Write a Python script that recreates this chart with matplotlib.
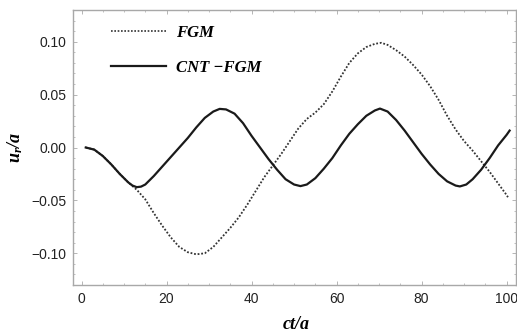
import matplotlib
matplotlib.use("Agg")
import matplotlib.pyplot as plt
from matplotlib.ticker import MultipleLocator
from matplotlib.lines import Line2D

# ---- data ----
cnt_x = [1.0, 3, 5, 7, 9, 11, 12, 13, 14, 15, 17, 19, 21, 23, 25, 27, 29, 31, 32.5, 34,
         36, 38, 40, 42, 44, 46, 48, 50, 51.5, 53, 55, 57, 59, 61, 63, 65, 67, 69, 70.2,
         72, 74, 76, 78, 80, 82, 84, 86, 88, 89, 90.5, 92, 94, 96, 98, 100, 100.7]
cnt_y = [0.0, -0.002, -0.008, -0.016, -0.025, -0.033, -0.036, -0.0375, -0.037, -0.035,
         -0.027, -0.018, -0.009, 0.000, 0.009, 0.019, 0.028, 0.034, 0.0365, 0.036,
         0.032, 0.023, 0.011, 0.000, -0.011, -0.021, -0.030, -0.035, -0.0365, -0.035,
         -0.029, -0.020, -0.010, 0.002, 0.013, 0.022, 0.030, 0.035, 0.0368,
         0.034, 0.026, 0.016, 0.005, -0.006, -0.016, -0.025, -0.032, -0.036, -0.0368,
         -0.035, -0.030, -0.021, -0.010, 0.002, 0.012, 0.016]

fgm_x = [1, 3, 5, 7, 9, 11, 13, 15, 17, 19, 21, 23, 25, 27, 29, 31, 33, 35, 37, 39, 41,
         43, 45, 47, 49, 51, 53, 55, 57, 59, 61, 63, 65, 67, 69, 70.5, 72, 74, 76, 78,
         80, 82, 84, 86, 88, 90, 92, 94, 96, 98, 100, 100.3]
fgm_y = [0.0, -0.002, -0.008, -0.016, -0.025, -0.033, -0.040, -0.049, -0.062, -0.074,
         -0.085, -0.094, -0.099, -0.101, -0.100, -0.094, -0.085, -0.076, -0.066, -0.054,
         -0.041, -0.028, -0.017, -0.006, 0.006, 0.018, 0.027, 0.033, 0.041, 0.053, 0.067,
         0.080, 0.089, 0.095, 0.098, 0.099, 0.097, 0.092, 0.086, 0.078, 0.069, 0.058,
         0.045, 0.030, 0.017, 0.006, -0.003, -0.013, -0.023, -0.034, -0.045, -0.047]

series_labels = ["FGM", "CNT \u2212FGM"]
x_ticks = [0, 20, 40, 60, 80, 100]
y_ticks = [-0.10, -0.05, 0.00, 0.05, 0.10]

plt.rcParams['mathtext.fontset'] = 'custom'
plt.rcParams['mathtext.it'] = 'Liberation Serif:bold:italic'
plt.rcParams['mathtext.rm'] = 'Liberation Serif:bold:italic'
plt.rcParams['mathtext.bf'] = 'Liberation Serif:bold:italic'

fig = plt.figure(figsize=(5.17, 3.34), dpi=100)
ax = fig.add_axes([73/517, 49/334, 443/517, 275/334])

ax.plot(fgm_x, fgm_y, color='#333333', lw=1.3, linestyle=(0, (1, 1)))
ax.plot(cnt_x, cnt_y, color='#1a1a1a', lw=1.6)

ax.set_xlim(-2, 102.2)
ax.set_ylim(-0.13, 0.13)
ax.set_xticks(x_ticks)
ax.set_yticks(y_ticks)
ax.set_xticklabels([str(t) for t in x_ticks])
ax.set_yticklabels(["\u22120.10", "\u22120.05", "0.00", "0.05", "0.10"])
ax.xaxis.set_minor_locator(MultipleLocator(5))
ax.yaxis.set_minor_locator(MultipleLocator(0.01))

spine_c = '#a8a8a8'
for s in ax.spines.values():
    s.set_color(spine_c)
    s.set_linewidth(1.0)
ax.tick_params(which='both', direction='in', top=True, right=True, color='#b5b5b5',
               labelsize=10, labelcolor='#222222')
ax.tick_params(which='major', length=3, width=0.7, pad=5)
ax.tick_params(which='minor', length=1.5, width=0.6)
for lab in ax.get_xticklabels() + ax.get_yticklabels():
    lab.set_fontfamily('Liberation Sans')

ax.set_xlabel(r'$ct/a$', fontsize=13)
ax.set_ylabel(r'$u_r/a$', fontsize=13)
ax.xaxis.set_label_coords(0.503, -0.11)
ax.yaxis.set_label_coords(-0.108, 0.50)

handles = [Line2D([], [], color='#333333', lw=1.2, linestyle=(0, (1, 1))),
           Line2D([], [], color='#1a1a1a', lw=1.6)]
leg = ax.legend(handles, series_labels, loc='upper left', bbox_to_anchor=(0.068, 0.975),
                frameon=False, borderpad=0, handlelength=3.3, handletextpad=0.55,
                labelspacing=1.1,
                prop={'family': 'Liberation Serif', 'weight': 'bold', 'style': 'italic',
                      'size': 12})

fig.savefig('out.png', dpi=100)
